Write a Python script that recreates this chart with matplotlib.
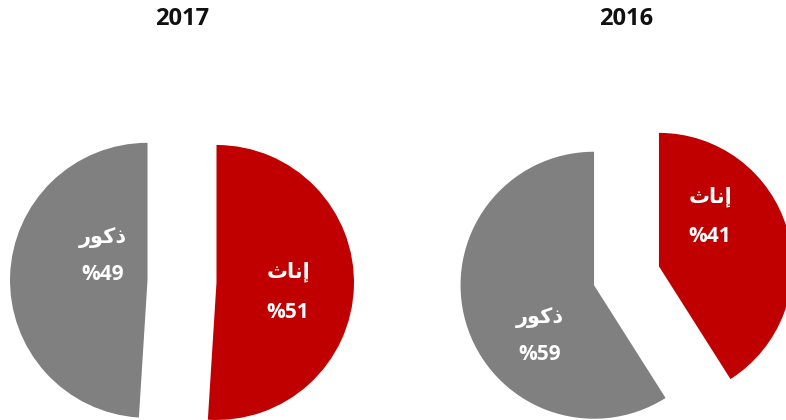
import matplotlib
matplotlib.use("Agg")
import matplotlib.pyplot as plt

plt.rcParams['font.family'] = ['Open Sans', 'DejaVu Sans']

years = ['2017', '2016']
female = [51, 41]
male = [49, 59]
# Arabic labels in shaped presentation forms, visual order (matplotlib has no bidi shaping)
female_label = '\uFE99\uFE8E\uFEE7\uFE87'   # إناث
male_label = '\uFEAD\uFEEE\uFEDB\uFEAB'     # ذكور

colors = ['#C00000', '#808080']

# layout, in pixel units of the 786x420 canvas (y measured upwards)
centers = [(182, 138.6), (626.5, 144.2)]
radii = [137.5, 133.5]
explode_px = [34.5, 33.8]
title_y = 401
# label anchor points (female, male) per pie: name line, value line
female_pos = [((288, 148), (288, 108)), ((710, 223), (710, 183))]
male_pos = [((103, 183), (103, 145)), ((540, 103), (540, 65))]

fig = plt.figure(figsize=(7.86, 4.2), dpi=100)
ax = fig.add_axes([0, 0, 1, 1])

for i in range(2):
    ax.pie([female[i], male[i]], colors=colors, startangle=90, counterclock=False,
           center=centers[i], radius=radii[i],
           explode=[explode_px[i], explode_px[i]],
           wedgeprops=dict(linewidth=0))
    ax.text(centers[i][0], title_y, years[i], ha='center', va='center',
            fontsize=17, fontweight='bold', color='#111111')

    (fx, fy), (fvx, fvy) = female_pos[i]
    ax.text(fx, fy, female_label, ha='center', va='center', fontsize=15,
            fontweight='bold', color='white')
    ax.text(fvx, fvy, '%' + str(female[i]), ha='center', va='center', fontsize=15,
            fontweight='bold', color='white')

    (mx, my), (mvx, mvy) = male_pos[i]
    ax.text(mx, my, male_label, ha='center', va='center', fontsize=15,
            fontweight='bold', color='white')
    ax.text(mvx, mvy, '%' + str(male[i]), ha='center', va='center', fontsize=15,
            fontweight='bold', color='white')

ax.set_xlim(0, 786)
ax.set_ylim(0, 420)
ax.set_aspect('auto')
ax.axis('off')

fig.savefig('out.png', dpi=100)
